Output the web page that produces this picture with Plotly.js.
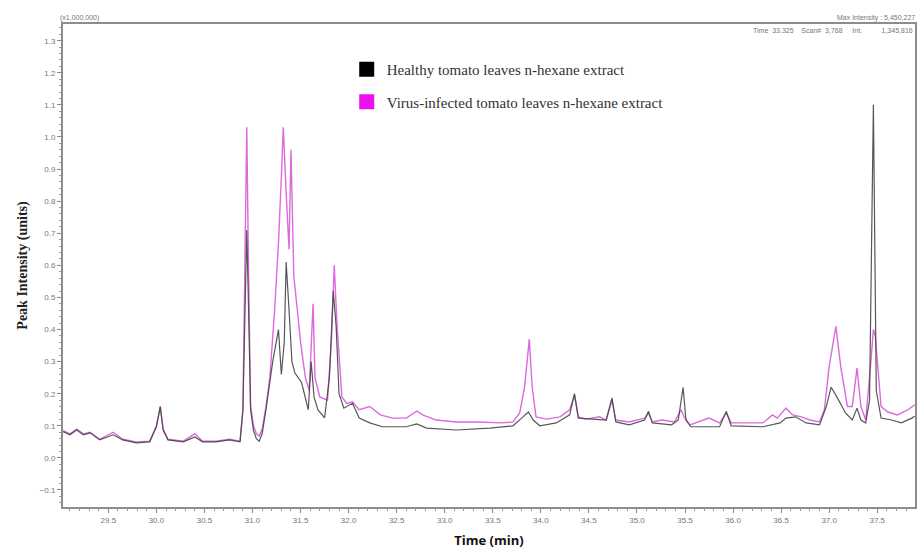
<!DOCTYPE html>
<html>
<head>
<meta charset="utf-8">
<script src="https://cdn.plot.ly/plotly-3.0.1.min.js"></script>
<style>html,body{margin:0;padding:0;background:#fff;}#chart{width:917px;height:556px;}</style>
</head>
<body>
<div id="chart"></div>
<script>
// Healthy tomato leaves n-hexane extract (time in min, intensity in x1,000,000)
var healthyTime = [29.03,29.10,29.17,29.24,29.31,29.41,29.55,29.65,29.79,29.93,30.00,30.04,30.07,30.12,30.28,30.40,30.48,30.62,30.76,30.87,30.90,30.92,30.94,30.96,30.98,31.01,31.04,31.07,31.10,31.14,31.21,31.27,31.30,31.33,31.35,31.38,31.41,31.44,31.51,31.58,31.61,31.64,31.68,31.75,31.80,31.84,31.87,31.90,31.95,32.04,32.11,32.22,32.35,32.60,32.71,32.81,33.12,33.47,33.71,33.80,33.87,33.92,33.99,34.16,34.30,34.35,34.39,34.54,34.68,34.74,34.78,34.92,35.08,35.12,35.16,35.36,35.43,35.48,35.51,35.56,35.86,35.93,35.98,36.31,36.49,36.55,36.65,36.76,36.90,36.97,37.02,37.08,37.17,37.24,37.29,37.33,37.38,37.42,37.46,37.49,37.54,37.65,37.75,37.86,37.89];
var healthyValues = [0.082,0.072,0.087,0.072,0.078,0.056,0.072,0.056,0.047,0.050,0.097,0.160,0.087,0.056,0.050,0.065,0.050,0.050,0.056,0.050,0.150,0.450,0.710,0.450,0.150,0.085,0.060,0.052,0.075,0.150,0.300,0.400,0.260,0.360,0.610,0.460,0.300,0.265,0.235,0.150,0.300,0.190,0.150,0.125,0.250,0.520,0.410,0.200,0.155,0.170,0.124,0.109,0.097,0.097,0.106,0.093,0.087,0.093,0.100,0.124,0.143,0.118,0.100,0.109,0.134,0.200,0.124,0.121,0.118,0.187,0.112,0.103,0.118,0.145,0.109,0.103,0.118,0.220,0.118,0.097,0.097,0.145,0.100,0.097,0.109,0.124,0.128,0.109,0.103,0.160,0.220,0.190,0.140,0.118,0.155,0.118,0.109,0.180,1.100,0.210,0.124,0.118,0.109,0.124,0.130];

// Virus-infected tomato leaves n-hexane extract
var virusTime = [29.03,29.10,29.17,29.24,29.31,29.41,29.55,29.65,29.79,29.93,30.00,30.04,30.07,30.12,30.28,30.40,30.48,30.62,30.76,30.87,30.90,30.92,30.94,30.96,30.98,31.01,31.04,31.07,31.10,31.14,31.18,31.23,31.27,31.30,31.32,31.35,31.38,31.40,31.43,31.47,31.50,31.55,31.59,31.63,31.65,31.70,31.78,31.82,31.85,31.88,31.93,31.98,32.04,32.11,32.22,32.33,32.46,32.60,32.71,32.77,32.91,33.12,33.36,33.58,33.71,33.78,33.83,33.88,33.91,33.95,34.06,34.20,34.30,34.35,34.39,34.47,34.61,34.68,34.74,34.78,34.92,35.08,35.12,35.16,35.26,35.39,35.46,35.49,35.55,35.75,35.86,35.93,35.98,36.14,36.31,36.41,36.46,36.55,36.62,36.71,36.80,36.90,36.95,37.00,37.07,37.12,37.19,37.24,37.29,37.33,37.38,37.43,37.46,37.48,37.51,37.54,37.61,37.71,37.82,37.89];
var virusValues = [0.085,0.075,0.090,0.075,0.080,0.058,0.080,0.058,0.050,0.052,0.100,0.160,0.090,0.058,0.052,0.075,0.052,0.052,0.058,0.052,0.150,0.600,1.030,0.550,0.160,0.100,0.075,0.068,0.090,0.160,0.250,0.460,0.670,0.875,1.030,0.825,0.650,0.960,0.565,0.450,0.360,0.250,0.210,0.480,0.250,0.190,0.180,0.360,0.600,0.410,0.190,0.170,0.175,0.150,0.160,0.134,0.124,0.124,0.146,0.134,0.118,0.112,0.112,0.109,0.112,0.140,0.220,0.370,0.220,0.128,0.121,0.128,0.150,0.196,0.128,0.121,0.128,0.118,0.180,0.118,0.112,0.124,0.140,0.112,0.118,0.112,0.150,0.128,0.103,0.124,0.109,0.140,0.109,0.109,0.109,0.134,0.124,0.155,0.134,0.128,0.118,0.112,0.150,0.285,0.410,0.285,0.160,0.160,0.280,0.160,0.118,0.285,0.400,0.380,0.265,0.160,0.143,0.134,0.150,0.165];

var seriesNames = ["Healthy tomato leaves n-hexane extract", "Virus-infected tomato leaves n-hexane extract"];
var xTickVals = [29.5,30.0,30.5,31.0,31.5,32.0,32.5,33.0,33.5,34.0,34.5,35.0,35.5,36.0,36.5,37.0,37.5];
var xTickText = ["29.5","30.0","30.5","31.0","31.5","32.0","32.5","33.0","33.5","34.0","34.5","35.0","35.5","36.0","36.5","37.0","37.5"];

var traces = [
  {x: virusTime, y: virusValues, type: 'scatter', mode: 'lines', showlegend: false,
   line: {color: '#dc6adc', width: 1.4}, hoverinfo: 'skip'},
  {x: healthyTime, y: healthyValues, type: 'scatter', mode: 'lines', showlegend: false,
   line: {color: '#454545', width: 1.2}, opacity: 0.9, hoverinfo: 'skip'},
  {x: [null], y: [null], type: 'scatter', mode: 'markers', name: seriesNames[0], legendgroup: 'a',
   marker: {symbol: 'square', size: 15, color: '#000000'}},
  {x: [null], y: [null], type: 'scatter', mode: 'markers', name: seriesNames[1], legendgroup: 'b',
   marker: {symbol: 'square', size: 15, color: '#ee11ee'}}
];

var layout = {
  width: 917, height: 556,
  margin: {l: 63, r: 2, t: 24, b: 49},
  paper_bgcolor: '#ffffff', plot_bgcolor: '#ffffff',
  font: {family: 'Liberation Sans, Arial, sans-serif', color: '#666'},
  xaxis: {
    range: [29.028, 37.893], tickmode: 'array', tickvals: xTickVals, ticktext: xTickText,
    showgrid: false, zeroline: false, showline: true, linecolor: '#8c8c8c', linewidth: 2, mirror: true,
    ticks: 'outside', ticklen: 4, tickcolor: '#888', tickfont: {size: 8, color: '#777'},
    minor: {dtick: 0.1, ticks: 'outside', ticklen: 2, tickcolor: '#999', showgrid: false},
    title: {text: 'Time (min)', font: {family: 'Open Sans, Liberation Sans, sans-serif', size: 13, color: '#111', weight: 'bold'}, standoff: 12}
  },
  yaxis: {
    range: [-0.153, 1.352], dtick: 0.1, tick0: 0, tickformat: '.1f',
    showgrid: false, zeroline: false, showline: true, linecolor: '#8c8c8c', linewidth: 2, mirror: true,
    ticks: 'outside', ticklen: 4, tickcolor: '#888', tickfont: {size: 8, color: '#777'},
    minor: {dtick: 0.02, ticks: 'outside', ticklen: 2, tickcolor: '#999', showgrid: false},
    title: {text: 'Peak Intensity (units)', font: {family: 'Liberation Serif, Times New Roman, serif', size: 14, color: '#222', weight: 'bold'}, standoff: 9}
  },
  legend: {
    x: 0.333, y: 0.94, xanchor: 'left', yanchor: 'top', bgcolor: 'rgba(0,0,0,0)',
    font: {family: 'Liberation Serif, Times New Roman, serif', size: 15, color: '#333'},
    tracegroupgap: 10, traceorder: 'grouped', itemsizing: 'trace'
  },
  annotations: [
    {xref: 'paper', yref: 'paper', x: -0.006, y: 1.0, xanchor: 'left', yanchor: 'bottom',
     text: '(x1,000,000)', showarrow: false, font: {size: 7, color: '#777'}},
    {xref: 'paper', yref: 'paper', x: 1.002, y: 1.0, xanchor: 'right', yanchor: 'bottom',
     text: 'Max Intensity : 5,450,227', showarrow: false, font: {size: 7, color: '#777'}},
    {xref: 'paper', yref: 'paper', x: 1.0, y: 0.998, xanchor: 'right', yanchor: 'top',
     text: 'Time  33.325    Scan#  3,768     Int.          1,345,816', showarrow: false, font: {size: 7, color: '#777'}}
  ]
};

Plotly.newPlot('chart', traces, layout, {displayModeBar: false, staticPlot: true});
</script>
</body>
</html>
